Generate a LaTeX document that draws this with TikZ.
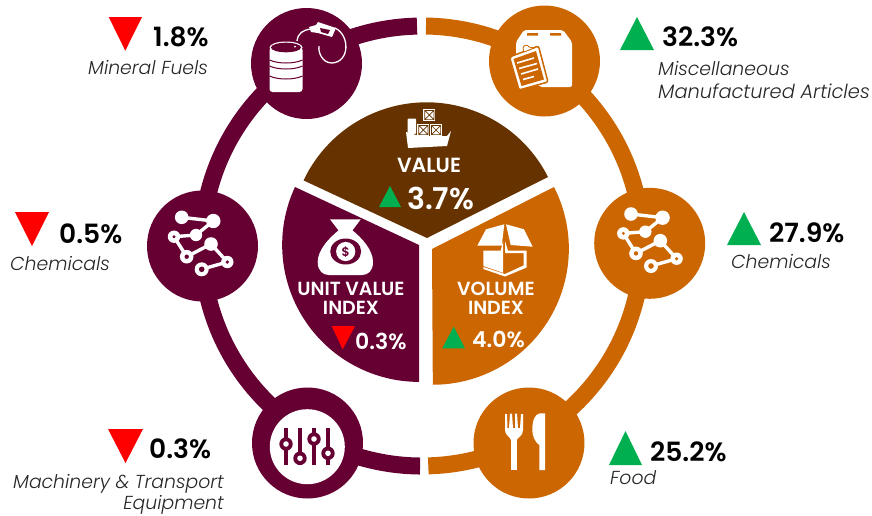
\documentclass[tikz,border=0pt]{standalone}
\usepackage{fontspec}
\setmainfont{Poppins}[BoldFont=* SemiBold,ItalicFont=* Light Italic]
\definecolor{maroon}{HTML}{660033}
\definecolor{ochre}{HTML}{CC6600}
\definecolor{umber}{HTML}{663300}
\definecolor{upgreen}{HTML}{00B050}
\definecolor{downred}{HTML}{FF0000}
\tikzset{
  ringline/.style={line width=17pt,line cap=butt},
  hub/.style={circle,minimum size=111pt,inner sep=0pt,fill=#1},
  pct/.style={font=\bfseries\fontsize{26.5}{26.5}\selectfont,text=black,anchor=west,inner sep=0pt},
  lbl/.style={font=\itshape\fontsize{18.8}{18.8}\selectfont,text=black!85,anchor=base west,inner sep=0pt},
  head/.style={font=\bfseries\fontsize{19}{19.5}\selectfont,text=white,inner sep=0pt,align=center},
  inpct/.style={font=\bfseries\fontsize{22}{22}\selectfont,text=white,anchor=west,inner sep=0pt},
  up/.style={fill=upgreen},
  down/.style={fill=downred},
}
\newcommand{\chainicon}[3]{%
 \begin{scope}[shift={(#1,#2)}]
  \draw[white,line width=3.4pt,line join=round]
    (181.7,217.3)--(213.3,221)--(196,235)--(174,236.7)--(186.7,256.7)--(211,244)--(227.3,262)--(201.7,269.3);
  \fill[white] (181.7,217.3) circle (6.8) (213.3,221) circle (7.2) (196,235) circle (6.2)
    (174,236.7) circle (6.2) (186.7,256.7) circle (6.8) (211,244) circle (6.8) (227.3,262) circle (6.2) (201.7,269.3) circle (7);
  \fill[#3] (174,236.7) circle (1.6) (186.7,256.7) circle (2.2) (227.3,262) circle (1.8) (201.7,269.3) circle (2.8);
 \end{scope}}
\begin{document}
\begin{tikzpicture}[x=1pt,y=1pt,yscale=-1]
\useasboundingbox (0,0) rectangle (872,515);
% ring
\draw[ringline,maroon] (417,26.1) arc (-91.3:-269.5:220);
\draw[ringline,ochre] (426,26) arc (-89:88.4:220);
% hubs
\node[hub=maroon] (fuel) at (306.5,63.5) {};
\node[hub=maroon] (chemL) at (202.5,246) {};
\node[hub=maroon] (mach) at (307.5,443) {};
\node[hub=ochre] (misc) at (544.5,61) {};
\node[hub=ochre] (chemR) at (649.7,243.3) {};
\node[hub=ochre] (food) at (529,443) {};
% centre sectors
\fill[umber] (548,177) arc (-26.8:-154.8:136) -- (427,238) -- cycle;
\fill[maroon] (295,187) arc (205:90:137) -- (419,245) -- cycle;
\fill[ochre] (554,187) arc (-27:90:136) -- (432,249) -- cycle;
% chain icons
\chainicon{0}{0}{maroon}
\chainicon{449.3}{-3.3}{ochre}
% barrel
\fill[white,rounded corners=3pt] (269.5,47) -- (269.5,92) -- (302.5,92) -- (302.5,47) -- cycle;
\fill[white] (286,47.5) ellipse (16.5 and 6);
\fill[maroon] (286,47.5) ellipse (15 and 4.8);
\fill[white] (295,46.5) circle (1);
\draw[maroon,line width=1pt] (269.5,60) .. controls (278,64) and (294,64) .. (302.5,60)
  (269.5,66) .. controls (278,70) and (294,70) .. (302.5,66)
  (269.5,76) .. controls (278,80) and (294,80) .. (302.5,76);
% nozzle and hose
\draw[white,line width=1.3pt] (297,41) .. controls (298,33) and (303,30) .. (311,29);
\fill[white] (309,27) -- (316,25) -- (318,22) -- (324,24) -- (336,28) -- (332,37) -- (318,33) -- (311,32) -- cycle;
\fill[maroon] (320,28) -- (330,30) -- (328,34) -- (321,32) -- cycle;
\draw[white,line width=1.3pt] (335,28) .. controls (350,35) and (350,62) .. (332,63)
  .. controls (322,63) and (318,52) .. (319,46);
% clipboard and box
\fill[white,rounded corners=2pt] (516,42) -- (524,30) -- (563,30) -- (572,42) -- (572,87) -- (540,87) -- (516,60) -- cycle;
\fill[ochre] (527,33) rectangle (538,35.5) (550,33) rectangle (561,35.5);
\fill[white,draw=ochre,line width=1.5pt,rounded corners=2pt] (509.5,57) -- (538.5,46) -- (548,82) -- (519,90) -- cycle;
\fill[ochre] (513.5,59) -- (536,51) -- (544,79.5) -- (521.5,86) -- cycle;
\fill[white,draw=ochre,line width=.8pt] (524,52) -- (523,48) .. controls (523,45) and (528,44) .. (529,47) -- (534,48) -- cycle;
\draw[white,line width=1.6pt] (517,63)--(534,58) (519,68.5)--(537,63.5) (521,74)--(538,69) (523,79.5)--(534,76.5);
% sliders
\fill[white] (307.3,446.7) circle (37.5);
\foreach \sx/\sy in {286/444,300/458.3,314/439,328/453.3}{
  \draw[maroon,line width=4pt] (\sx,427.7) -- (\sx,465);
  \fill[maroon] (\sx,\sy) circle (6.7);
  \fill[white] (\sx,\sy) circle (2.8);
}
% fork and knife
\fill[white] (511,470) rectangle (516.7,438);
\fill[white] (505,414) -- (505,430) .. controls (505,435) and (510,437) .. (511,440) -- (516.7,440)
  .. controls (518,437) and (523,436) .. (523,430) -- (523,414) -- (521,414) -- (520,428) -- (518,428) -- (517,413.5) -- (515,413.5) -- (515,428) -- (513,428) -- (512,413.5) -- (510,413.5) -- (509,428) -- (507.5,428) -- (507,414) -- cycle;
\fill[white] (545,470) -- (539.3,470) -- (539.3,445) .. controls (535,442) and (532.3,436) .. (532.3,430) .. controls (532.3,420) and (535,414) .. (540,413.3) -- (545,413.3) -- cycle;
% ship
\fill[white] (406,132) -- (413,134) -- (419,136) -- (447,136) -- (451,131) -- (447,146) -- (408,148) -- cycle;
\fill[white,rounded corners=1pt] (407.5,118.5) rectangle (416,134);
\foreach \cx/\cy in {429.3/115,423.3/130,436/130}{
  \fill[white] (\cx-6,\cy-6) rectangle (\cx+6,\cy+6);
  \draw[umber,line width=.7pt] (\cx-4.6,\cy-4.6) rectangle (\cx+4.6,\cy+4.6)
     (\cx-4.6,\cy-4.6) -- (\cx+4.6,\cy+4.6) (\cx-4.6,\cy+4.6) -- (\cx+4.6,\cy-4.6);
}
% money bag
\fill[white] (330,219.3) -- (360.7,219.3) -- (352,231) -- (339,231) -- cycle;
\fill[white] (339,230) -- (352,230) .. controls (362,238) and (373,250) .. (373,262)
  .. controls (373,271) and (368,275) .. (362,275) -- (329,275)
  .. controls (323,275) and (317.7,271) .. (317.7,262) .. controls (317.7,250) and (329,238) .. (339,230) -- cycle;
\fill[maroon] (345.7,251.5) ellipse (15.5 and 13);
\fill[white] (345.7,251.5) circle (9.6);
\node[font=\bfseries\fontsize{12.5}{12.5}\selectfont,text=maroon,inner sep=0pt] (dollar) at (345.7,252) {\$};
% open box
\fill[white] (477.3,245.7) -- (486,229.3) -- (504.3,224.3) -- (501.7,245.7) -- cycle;
\fill[white] (506,224.3) -- (524,229.3) -- (532.7,246.7) -- (510.7,245) -- cycle;
\fill[white] (483.3,250.7) -- (500.7,250.7) -- (503,241) -- (503,272.7) -- (483.3,266) -- cycle;
\fill[white] (505,241) -- (508,250.7) -- (526.7,250.7) -- (526.7,267.5) -- (505,276.5) -- (483.3,269) -- (483.3,267) -- (505,274) -- (523.5,265.5) -- (523.5,253) -- (505,253) -- cycle;
% centre text
\node[head,font=\bfseries\fontsize{20.5}{20.5}\selectfont] (value) at (429,165.5) {VALUE};
\fill[up] (379,207) -- (401,207) -- (390,186) -- cycle;
\node[font=\bfseries\fontsize{30}{30}\selectfont,text=white,anchor=west,inner sep=0pt] (valpct) at (407,198) {3.7\%};
\node[head] (uvi) at (351,298.5) {UNIT VALUE\\INDEX};
\fill[down] (331.7,326) -- (355,326) -- (342.7,349.3) -- cycle;
\node[inpct] (uvipct) at (355,341) {0.3\%};
\node[head] (voli) at (496,298.5) {VOLUME\\INDEX};
\fill[up] (442.3,348.3) -- (465,348.3) -- (453.7,326.7) -- cycle;
\node[inpct] (volpct) at (472,339) {4.0\%};
% outer labels
\fill[down] (108.7,17) -- (142,17) -- (125.3,50.7) -- cycle;
\node[pct] (p1) at (153,37) {1.8\%};
\node[lbl] (l1) at (88,74) {Mineral Fuels};
\fill[down] (15,212) -- (49,212) -- (32,246) -- cycle;
\node[pct] (p2) at (59,234) {0.5\%};
\node[lbl] (l2) at (10,270) {Chemicals};
\fill[down] (108,429) -- (143,429) -- (125.5,463) -- cycle;
\node[pct] (p3) at (149,449) {0.3\%};
\node[lbl] (l3) at (13,488) {Machinery \& Transport};
\node[lbl,anchor=base east] (l3b) at (224,509) {Equipment};
\fill[up] (620,50) -- (654,50) -- (637,17) -- cycle;
\node[pct] (p4) at (662,37) {32.3\%};
\node[lbl] (l4) at (658,75) {Miscellaneous};
\node[lbl,font=\itshape\fontsize{19.4}{19.4}\selectfont] (l4b) at (658,98) {Manufactured Articles};
\fill[up] (727,245) -- (761,245) -- (744,212) -- cycle;
\node[pct] (p5) at (769,233) {27.9\%};
\node[lbl] (l5) at (731,268) {Chemicals};
\fill[up] (609,465) -- (642,465) -- (625.5,431) -- cycle;
\node[pct] (p6) at (650,452) {25.2\%};
\node[lbl] (l6) at (610,484) {Food};
\end{tikzpicture}
\end{document}
